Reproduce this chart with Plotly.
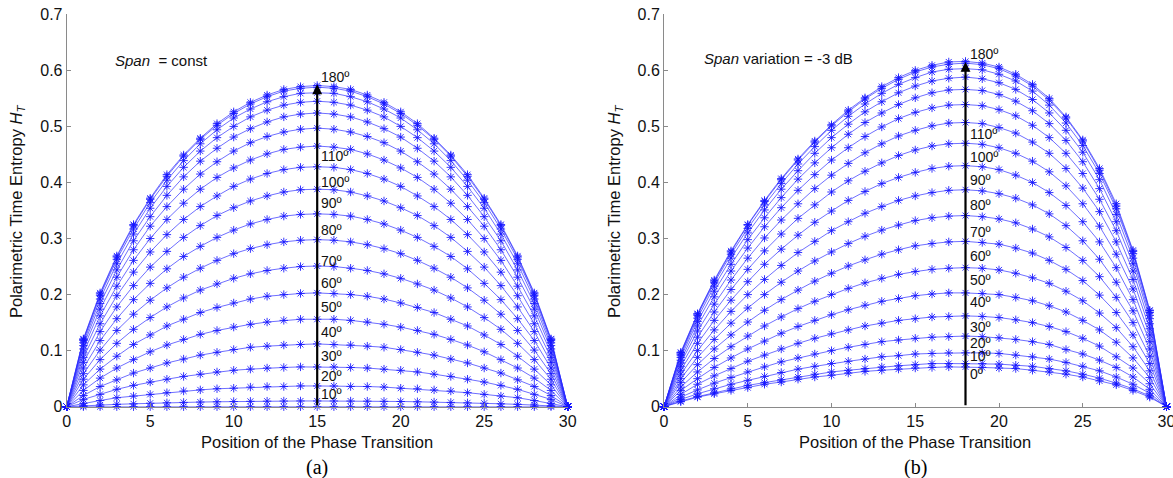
import plotly.graph_objects as go

# ---------------------------------------------------------------------------
# Data: polarimetric time entropy H_T versus the position of the phase
# transition (31 samples), one curve per phase jump 0..180 deg.
# ---------------------------------------------------------------------------
positions = [0, 1, 2, 3, 4, 5, 6, 7, 8, 9, 10, 11, 12, 13, 14, 15,
             16, 17, 18, 19, 20, 21, 22, 23, 24, 25, 26, 27, 28, 29, 30]

phase_angles = [0, 10, 20, 30, 40, 50, 60, 70, 80, 90,
                100, 110, 120, 130, 140, 150, 160, 170, 180]

# (a) Span = const
const_000 = [0, 0, 0, 0, 0, 0, 0, 0, 0, 0, 0, 0, 0, 0, 0, 0, 0, 0, 0, 0, 0, 0, 0, 0, 0, 0, 0, 0, 0, 0, 0]
const_010 = [0, 0.0017, 0.0031, 0.0042, 0.0052, 0.0062, 0.0070, 0.0077, 0.0083, 0.0088, 0.0093, 0.0096, 0.0099, 0.0101, 0.0102, 0.0102, 0.0102, 0.0101, 0.0099, 0.0096, 0.0093, 0.0088, 0.0083, 0.0077, 0.0070, 0.0062, 0.0052, 0.0042, 0.0031, 0.0017, 0]
const_020 = [0, 0.006, 0.011, 0.016, 0.019, 0.022, 0.025, 0.028, 0.030, 0.032, 0.033, 0.035, 0.036, 0.036, 0.037, 0.037, 0.037, 0.036, 0.036, 0.035, 0.033, 0.032, 0.030, 0.028, 0.025, 0.022, 0.019, 0.016, 0.011, 0.006, 0]
const_030 = [0, 0.013, 0.022, 0.031, 0.038, 0.044, 0.049, 0.054, 0.058, 0.062, 0.065, 0.067, 0.069, 0.070, 0.071, 0.071, 0.071, 0.070, 0.069, 0.067, 0.065, 0.062, 0.058, 0.054, 0.049, 0.044, 0.038, 0.031, 0.022, 0.013, 0]
const_040 = [0, 0.020, 0.036, 0.048, 0.060, 0.069, 0.078, 0.085, 0.092, 0.097, 0.102, 0.106, 0.108, 0.110, 0.111, 0.112, 0.111, 0.110, 0.108, 0.106, 0.102, 0.097, 0.092, 0.085, 0.078, 0.069, 0.060, 0.048, 0.036, 0.020, 0]
const_050 = [0, 0.029, 0.051, 0.069, 0.084, 0.098, 0.110, 0.120, 0.129, 0.136, 0.142, 0.147, 0.151, 0.154, 0.156, 0.156, 0.156, 0.154, 0.151, 0.147, 0.142, 0.136, 0.129, 0.120, 0.110, 0.098, 0.084, 0.069, 0.051, 0.029, 0]
const_060 = [0, 0.039, 0.067, 0.090, 0.111, 0.128, 0.144, 0.156, 0.168, 0.177, 0.185, 0.192, 0.197, 0.200, 0.202, 0.203, 0.202, 0.200, 0.197, 0.192, 0.185, 0.177, 0.168, 0.156, 0.144, 0.128, 0.111, 0.090, 0.067, 0.039, 0]
const_070 = [0, 0.049, 0.084, 0.113, 0.138, 0.159, 0.178, 0.194, 0.208, 0.219, 0.229, 0.237, 0.243, 0.247, 0.250, 0.251, 0.250, 0.247, 0.243, 0.237, 0.229, 0.219, 0.208, 0.194, 0.178, 0.159, 0.138, 0.113, 0.084, 0.049, 0]
const_080 = [0, 0.059, 0.101, 0.136, 0.165, 0.190, 0.212, 0.231, 0.247, 0.261, 0.273, 0.282, 0.289, 0.294, 0.297, 0.298, 0.297, 0.294, 0.289, 0.282, 0.273, 0.261, 0.247, 0.231, 0.212, 0.190, 0.165, 0.136, 0.101, 0.059, 0]
const_090 = [0, 0.069, 0.118, 0.157, 0.191, 0.220, 0.246, 0.268, 0.286, 0.302, 0.315, 0.326, 0.334, 0.340, 0.343, 0.344, 0.343, 0.340, 0.334, 0.326, 0.315, 0.302, 0.286, 0.268, 0.246, 0.220, 0.191, 0.157, 0.118, 0.069, 0]
const_100 = [0, 0.079, 0.134, 0.178, 0.216, 0.249, 0.277, 0.302, 0.323, 0.341, 0.355, 0.367, 0.376, 0.383, 0.387, 0.388, 0.387, 0.383, 0.376, 0.367, 0.355, 0.341, 0.323, 0.302, 0.277, 0.249, 0.216, 0.178, 0.134, 0.079, 0]
const_110 = [0, 0.088, 0.148, 0.198, 0.240, 0.276, 0.307, 0.334, 0.357, 0.376, 0.393, 0.406, 0.416, 0.423, 0.427, 0.428, 0.427, 0.423, 0.416, 0.406, 0.393, 0.376, 0.357, 0.334, 0.307, 0.276, 0.240, 0.198, 0.148, 0.088, 0]
const_120 = [0, 0.096, 0.162, 0.215, 0.261, 0.300, 0.334, 0.363, 0.388, 0.409, 0.426, 0.440, 0.451, 0.459, 0.463, 0.465, 0.463, 0.459, 0.451, 0.440, 0.426, 0.409, 0.388, 0.363, 0.334, 0.300, 0.261, 0.215, 0.162, 0.096, 0]
const_130 = [0, 0.103, 0.174, 0.231, 0.280, 0.322, 0.357, 0.388, 0.415, 0.437, 0.456, 0.471, 0.482, 0.490, 0.495, 0.497, 0.495, 0.490, 0.482, 0.471, 0.456, 0.437, 0.415, 0.388, 0.357, 0.322, 0.280, 0.231, 0.174, 0.103, 0]
const_140 = [0, 0.109, 0.184, 0.244, 0.296, 0.339, 0.377, 0.410, 0.438, 0.461, 0.481, 0.496, 0.508, 0.517, 0.522, 0.524, 0.522, 0.517, 0.508, 0.496, 0.481, 0.461, 0.438, 0.410, 0.377, 0.339, 0.296, 0.244, 0.184, 0.109, 0]
const_150 = [0, 0.114, 0.192, 0.255, 0.308, 0.354, 0.393, 0.427, 0.456, 0.480, 0.500, 0.517, 0.529, 0.538, 0.543, 0.545, 0.543, 0.538, 0.529, 0.517, 0.500, 0.480, 0.456, 0.427, 0.393, 0.354, 0.308, 0.255, 0.192, 0.114, 0]
const_160 = [0, 0.118, 0.198, 0.263, 0.317, 0.364, 0.404, 0.439, 0.469, 0.494, 0.515, 0.531, 0.544, 0.553, 0.559, 0.560, 0.559, 0.553, 0.544, 0.531, 0.515, 0.494, 0.469, 0.439, 0.404, 0.364, 0.317, 0.263, 0.198, 0.118, 0]
const_170 = [0, 0.120, 0.201, 0.267, 0.323, 0.370, 0.411, 0.447, 0.477, 0.502, 0.523, 0.540, 0.553, 0.563, 0.568, 0.570, 0.568, 0.563, 0.553, 0.540, 0.523, 0.502, 0.477, 0.447, 0.411, 0.370, 0.323, 0.267, 0.201, 0.120, 0]
const_180 = [0, 0.121, 0.203, 0.269, 0.325, 0.372, 0.414, 0.449, 0.479, 0.505, 0.526, 0.543, 0.556, 0.566, 0.571, 0.573, 0.571, 0.566, 0.556, 0.543, 0.526, 0.505, 0.479, 0.449, 0.414, 0.372, 0.325, 0.269, 0.203, 0.121, 0]

# (b) Span variation = -3 dB
var_000 = [0, 0.009, 0.017, 0.023, 0.029, 0.034, 0.040, 0.044, 0.049, 0.053, 0.056, 0.060, 0.063, 0.065, 0.067, 0.069, 0.070, 0.071, 0.071, 0.070, 0.069, 0.068, 0.065, 0.062, 0.058, 0.053, 0.046, 0.039, 0.029, 0.017, 0]
var_010 = [0, 0.010, 0.018, 0.025, 0.032, 0.038, 0.043, 0.048, 0.053, 0.058, 0.062, 0.065, 0.068, 0.071, 0.073, 0.075, 0.077, 0.077, 0.077, 0.077, 0.076, 0.074, 0.072, 0.068, 0.064, 0.058, 0.051, 0.042, 0.032, 0.019, 0]
var_020 = [0, 0.013, 0.023, 0.032, 0.040, 0.047, 0.054, 0.061, 0.067, 0.072, 0.077, 0.081, 0.085, 0.089, 0.091, 0.094, 0.095, 0.096, 0.096, 0.096, 0.095, 0.092, 0.089, 0.085, 0.079, 0.072, 0.064, 0.053, 0.040, 0.024, 0]
var_030 = [0, 0.017, 0.030, 0.042, 0.052, 0.062, 0.071, 0.080, 0.087, 0.094, 0.100, 0.106, 0.111, 0.116, 0.119, 0.122, 0.124, 0.125, 0.126, 0.125, 0.123, 0.120, 0.116, 0.111, 0.102, 0.094, 0.083, 0.070, 0.053, 0.031, 0]
var_040 = [0, 0.022, 0.040, 0.055, 0.068, 0.081, 0.092, 0.103, 0.113, 0.122, 0.130, 0.137, 0.144, 0.149, 0.154, 0.157, 0.160, 0.161, 0.162, 0.161, 0.159, 0.155, 0.150, 0.143, 0.134, 0.122, 0.108, 0.089, 0.069, 0.041, 0]
var_050 = [0, 0.029, 0.050, 0.070, 0.087, 0.103, 0.117, 0.131, 0.143, 0.154, 0.164, 0.173, 0.181, 0.188, 0.193, 0.198, 0.201, 0.203, 0.203, 0.202, 0.200, 0.195, 0.189, 0.180, 0.169, 0.154, 0.137, 0.115, 0.087, 0.052, 0]
var_060 = [0, 0.035, 0.062, 0.086, 0.107, 0.126, 0.144, 0.160, 0.175, 0.188, 0.200, 0.211, 0.221, 0.229, 0.236, 0.241, 0.245, 0.247, 0.248, 0.247, 0.244, 0.238, 0.230, 0.220, 0.206, 0.189, 0.167, 0.141, 0.107, 0.064, 0]
var_070 = [0, 0.043, 0.075, 0.103, 0.128, 0.151, 0.172, 0.191, 0.208, 0.224, 0.238, 0.251, 0.262, 0.272, 0.280, 0.287, 0.291, 0.294, 0.295, 0.293, 0.290, 0.283, 0.274, 0.261, 0.245, 0.225, 0.199, 0.168, 0.128, 0.077, 0]
var_080 = [0, 0.050, 0.088, 0.120, 0.149, 0.176, 0.200, 0.222, 0.242, 0.260, 0.276, 0.291, 0.304, 0.315, 0.324, 0.332, 0.337, 0.340, 0.341, 0.339, 0.335, 0.328, 0.317, 0.303, 0.284, 0.261, 0.232, 0.195, 0.150, 0.090, 0]
var_090 = [0, 0.058, 0.100, 0.137, 0.170, 0.200, 0.227, 0.252, 0.275, 0.295, 0.314, 0.330, 0.345, 0.357, 0.368, 0.376, 0.382, 0.386, 0.387, 0.385, 0.380, 0.372, 0.360, 0.344, 0.323, 0.296, 0.263, 0.222, 0.171, 0.103, 0]
var_100 = [0, 0.065, 0.113, 0.154, 0.190, 0.223, 0.254, 0.281, 0.306, 0.329, 0.349, 0.368, 0.384, 0.398, 0.409, 0.418, 0.425, 0.429, 0.430, 0.428, 0.423, 0.413, 0.400, 0.382, 0.359, 0.330, 0.294, 0.248, 0.191, 0.116, 0]
var_110 = [0, 0.072, 0.124, 0.169, 0.209, 0.245, 0.278, 0.308, 0.336, 0.360, 0.383, 0.403, 0.420, 0.435, 0.448, 0.458, 0.465, 0.469, 0.470, 0.468, 0.462, 0.452, 0.438, 0.419, 0.394, 0.362, 0.322, 0.272, 0.210, 0.128, 0]
var_120 = [0, 0.078, 0.135, 0.183, 0.226, 0.265, 0.301, 0.333, 0.362, 0.389, 0.413, 0.434, 0.453, 0.469, 0.483, 0.493, 0.501, 0.506, 0.507, 0.505, 0.498, 0.488, 0.472, 0.452, 0.425, 0.390, 0.348, 0.294, 0.227, 0.139, 0]
var_130 = [0, 0.083, 0.144, 0.196, 0.242, 0.283, 0.321, 0.355, 0.386, 0.414, 0.440, 0.462, 0.482, 0.499, 0.514, 0.525, 0.533, 0.538, 0.539, 0.537, 0.530, 0.519, 0.502, 0.480, 0.452, 0.416, 0.370, 0.314, 0.242, 0.148, 0]
var_140 = [0, 0.088, 0.152, 0.206, 0.254, 0.298, 0.337, 0.373, 0.406, 0.435, 0.462, 0.486, 0.507, 0.524, 0.539, 0.551, 0.560, 0.565, 0.566, 0.564, 0.557, 0.545, 0.528, 0.505, 0.475, 0.437, 0.389, 0.330, 0.255, 0.157, 0]
var_150 = [0, 0.092, 0.158, 0.215, 0.265, 0.310, 0.351, 0.388, 0.421, 0.452, 0.480, 0.504, 0.526, 0.544, 0.560, 0.572, 0.581, 0.586, 0.588, 0.585, 0.578, 0.566, 0.548, 0.524, 0.493, 0.454, 0.405, 0.343, 0.265, 0.163, 0]
var_160 = [0, 0.094, 0.163, 0.221, 0.272, 0.318, 0.360, 0.398, 0.433, 0.464, 0.493, 0.518, 0.540, 0.559, 0.575, 0.587, 0.597, 0.602, 0.603, 0.601, 0.593, 0.581, 0.563, 0.538, 0.506, 0.466, 0.416, 0.353, 0.273, 0.168, 0]
var_170 = [0, 0.096, 0.165, 0.224, 0.276, 0.324, 0.366, 0.405, 0.440, 0.472, 0.501, 0.526, 0.549, 0.568, 0.584, 0.597, 0.606, 0.611, 0.613, 0.610, 0.603, 0.590, 0.572, 0.547, 0.515, 0.474, 0.422, 0.358, 0.277, 0.171, 0]
var_180 = [0, 0.097, 0.166, 0.226, 0.278, 0.325, 0.368, 0.407, 0.442, 0.474, 0.503, 0.529, 0.551, 0.571, 0.587, 0.600, 0.609, 0.615, 0.616, 0.613, 0.606, 0.593, 0.575, 0.550, 0.517, 0.476, 0.425, 0.362, 0.279, 0.172, 0]

# curve labels
const_label_text = ["10º", "20º", "30º", "40º", "50º", "60º", "70º", "80º", "90º", "100º", "110º", "180º"]
const_label_y = [0.022, 0.054, 0.091, 0.133, 0.177, 0.220, 0.260, 0.315, 0.364, 0.401, 0.447, 0.588]
var_label_text = ["0º", "10º", "20º", "30º", "40º", "50º", "60º", "70º", "80º", "90º", "100º", "110º", "180º"]
var_label_y = [0.058, 0.091, 0.113, 0.143, 0.187, 0.226, 0.269, 0.312, 0.360, 0.404, 0.446, 0.486, 0.629]

# arrows (position of the transition where labels are read, and arrow tip)
const_arrow_x, const_arrow_top = 15, 0.575
var_arrow_x, var_arrow_top = 18, 0.615

const_series = [const_000, const_010, const_020, const_030, const_040, const_050, const_060,
                const_070, const_080, const_090, const_100, const_110, const_120, const_130,
                const_140, const_150, const_160, const_170, const_180]
var_series = [var_000, var_010, var_020, var_030, var_040, var_050, var_060,
              var_070, var_080, var_090, var_100, var_110, var_120, var_130,
              var_140, var_150, var_160, var_170, var_180]

# ---------------------------------------------------------------------------
# Styling
# ---------------------------------------------------------------------------
W, H = 1173, 478
FONT = "Liberation Sans, Arial, sans-serif"
TEXT = "#111111"
AXIS = "#8a8a8a"
LINE = "rgba(40,40,255,0.75)"
MARK = "rgba(20,20,255,0.85)"

fig = go.Figure()

for xa, ya, series in (("x", "y", const_series), ("x2", "y2", var_series)):
    for ang, vals in zip(phase_angles, series):
        fig.add_trace(go.Scatter(
            x=positions, y=vals, xaxis=xa, yaxis=ya,
            mode="lines+markers", name=f"{ang}º",
            line=dict(color=LINE, width=0.9),
            marker=dict(symbol="asterisk-open", size=7, color=MARK,
                        line=dict(color=MARK, width=1)),
            cliponaxis=False, showlegend=False, hoverinfo="skip",
        ))

def px_x(p):
    return p / W

def px_y(p):
    return 1 - p / H

xdom_a = [px_x(66.7), px_x(567.7)]
xdom_b = [px_x(664.0), px_x(1166.5)]
ydom = [px_y(406.7), px_y(14.3)]

common_x = dict(range=[0, 30], tickvals=[0, 5, 10, 15, 20, 25, 30],
                ticks="inside", ticklen=4, tickcolor=AXIS, tickwidth=1,
                showline=True, linecolor=AXIS, linewidth=1,
                showgrid=False, zeroline=False, automargin=False,
                ticklabeloverflow="allow",
                tickfont=dict(family=FONT, size=16, color=TEXT))
common_y = dict(range=[0, 0.7],
                tickvals=[0, 0.1, 0.2, 0.3, 0.4, 0.5, 0.6, 0.7],
                ticktext=["0", "0.1", "0.2", "0.3", "0.4", "0.5", "0.6", "0.7"],
                ticks="inside", ticklen=4, tickcolor=AXIS, tickwidth=1,
                showline=True, linecolor=AXIS, linewidth=1,
                showgrid=False, zeroline=False, automargin=False,
                ticklabeloverflow="allow",
                tickfont=dict(family=FONT, size=16, color=TEXT))

fig.update_layout(
    width=W, height=H,
    margin=dict(l=0, r=0, t=0, b=0),
    paper_bgcolor="white", plot_bgcolor="white",
    showlegend=False,
    xaxis=dict(domain=xdom_a, anchor="y", **common_x),
    yaxis=dict(domain=ydom, anchor="x", **common_y),
    xaxis2=dict(domain=xdom_b, anchor="y2", **common_x),
    yaxis2=dict(domain=ydom, anchor="x2", **common_y),
)

ann = []

# arrows
for xr, yr, ax_x, top in (("x", "y", const_arrow_x, const_arrow_top),
                          ("x2", "y2", var_arrow_x, var_arrow_top)):
    ann.append(dict(x=ax_x, y=top, ax=ax_x, ay=0, xref=xr, yref=yr,
                    axref=xr, ayref=yr, text="", showarrow=True,
                    arrowhead=2, arrowsize=0.9, arrowwidth=2.2,
                    arrowcolor="black"))

# curve labels
for txt, yv in zip(const_label_text, const_label_y):
    ann.append(dict(x=const_arrow_x + 0.12, y=yv, xref="x", yref="y", text=txt,
                    showarrow=False, xanchor="left", yanchor="middle",
                    font=dict(family=FONT, size=14, color=TEXT)))
for txt, yv in zip(var_label_text, var_label_y):
    ann.append(dict(x=var_arrow_x + 0.12, y=yv, xref="x2", yref="y2", text=txt,
                    showarrow=False, xanchor="left", yanchor="middle",
                    font=dict(family=FONT, size=14, color=TEXT)))

# condition notes
ann.append(dict(x=2.8, y=0.618, xref="x", yref="y",
                text="<i>Span</i>&nbsp;&nbsp;= const", showarrow=False,
                xanchor="left", yanchor="middle",
                font=dict(family=FONT, size=15, color=TEXT)))
ann.append(dict(x=2.25, y=0.621, xref="x2", yref="y2",
                text="<i>Span</i> variation = -3 dB", showarrow=False,
                xanchor="left", yanchor="middle",
                font=dict(family=FONT, size=15, color=TEXT)))

# axis titles
ytitle = "Polarimetric Time Entropy <i>H</i><sub><i>T</i></sub>"
xtitle = "Position of the Phase Transition"
for cx in (17, 615):
    ann.append(dict(x=px_x(cx), y=px_y(212), xref="paper", yref="paper",
                    text=ytitle, textangle=-90, showarrow=False,
                    xanchor="center", yanchor="middle",
                    font=dict(family=FONT, size=16.5, color=TEXT)))
for cx, tag in ((317.2, "(a)"), (915.2, "(b)")):
    ann.append(dict(x=px_x(cx), y=px_y(442), xref="paper", yref="paper",
                    text=xtitle, showarrow=False,
                    xanchor="center", yanchor="middle",
                    font=dict(family=FONT, size=16.5, color=TEXT)))
    ann.append(dict(x=px_x(cx), y=px_y(467), xref="paper", yref="paper",
                    text=tag, showarrow=False,
                    xanchor="center", yanchor="middle",
                    font=dict(family="Liberation Serif, Times New Roman, serif",
                              size=20, color="black")))

fig.update_layout(annotations=ann)

fig.write_html("out.html")
